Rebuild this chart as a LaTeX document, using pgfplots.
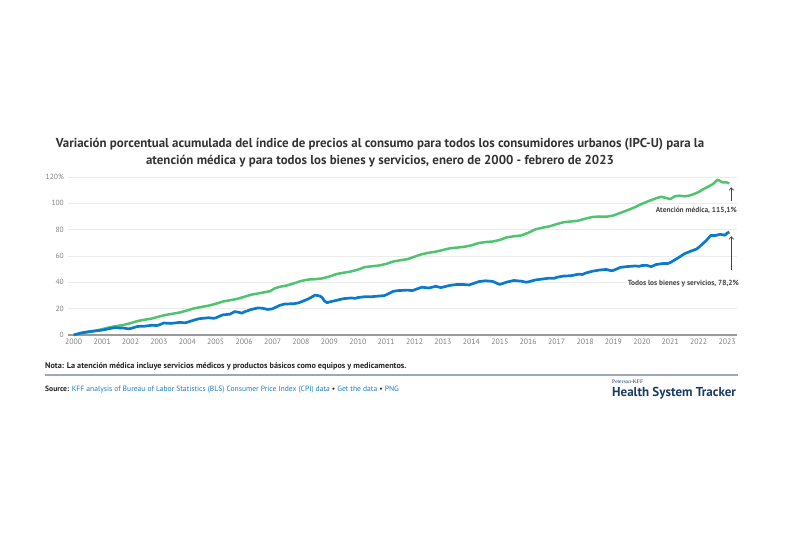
\documentclass[border=0pt]{standalone}
\usepackage{fontspec}
\setmainfont{PT Sans}
\newfontfamily\logoserif{Liberation Serif}
\usepackage{pgfplots}
\pgfplotsset{compat=1.18}
\usetikzlibrary{arrows.meta}

\definecolor{medgreen}{HTML}{4FC46E}
\definecolor{allblue}{HTML}{0A7AD0}
\definecolor{gridgray}{HTML}{ECECEC}
\definecolor{axisgray}{HTML}{9A9A9A}
\definecolor{ticktext}{HTML}{808080}
\definecolor{titletext}{HTML}{333333}
\definecolor{notetext}{HTML}{222222}
\definecolor{rulecolor}{HTML}{9DA8BA}
\definecolor{linkblue}{HTML}{1F7DC4}
\definecolor{navy}{HTML}{1C3A64}
\definecolor{annot}{HTML}{444444}

% Cumulative % change since January 2000, CPI-U medical care
\pgfplotstableread{
t        v
2000.00  0.0
2000.25  1.2
2000.50  2.2
2000.75  3.2
2001.00  4.4
2001.25  5.8
2001.50  6.8
2001.75  7.6
2002.00  9.0
2002.25  10.6
2002.50  11.6
2002.75  12.5
2003.00  14.0
2003.25  15.3
2003.50  16.2
2003.75  17.2
2004.00  18.7
2004.25  20.3
2004.50  21.3
2004.75  22.3
2005.00  23.7
2005.25  25.4
2005.50  26.4
2005.75  27.4
2006.00  29.0
2006.25  30.6
2006.50  31.6
2006.75  32.6
2006.92  33.3
2007.08  35.4
2007.25  36.6
2007.50  37.6
2007.75  39.2
2008.00  41.0
2008.25  42.1
2008.50  42.4
2008.75  43.0
2009.00  44.4
2009.25  46.3
2009.50  47.3
2009.75  48.2
2010.00  49.6
2010.25  51.6
2010.50  52.2
2010.75  52.8
2011.00  54.0
2011.25  55.8
2011.50  56.8
2011.75  57.6
2012.00  59.5
2012.25  61.3
2012.50  62.5
2012.75  63.3
2013.00  64.6
2013.25  65.9
2013.50  66.4
2013.75  67.0
2014.00  68.1
2014.25  69.8
2014.50  70.6
2014.75  71.0
2015.00  72.2
2015.25  74.2
2015.50  75.0
2015.75  75.6
2016.00  77.6
2016.25  80.2
2016.50  81.5
2016.75  82.5
2017.00  84.2
2017.25  85.7
2017.50  86.2
2017.75  86.8
2018.00  88.3
2018.25  89.6
2018.50  90.0
2018.75  89.8
2019.00  90.8
2019.25  92.8
2019.50  94.8
2019.75  97.0
2020.00  99.6
2020.25  101.8
2020.50  103.8
2020.67  105.0
2020.83  104.2
2021.00  103.2
2021.17  105.4
2021.33  105.8
2021.50  105.3
2021.67  105.9
2021.83  107.0
2022.00  108.6
2022.17  110.8
2022.33  112.6
2022.50  114.6
2022.67  118.0
2022.75  117.0
2022.83  116.0
2022.92  116.0
2023.00  115.8
2023.08  115.1
}\medical

% Cumulative % change since January 2000, CPI-U all items
\pgfplotstableread{
t        v
2000.00  0.0
2000.25  1.5
2000.50  2.4
2000.75  3.1
2001.00  3.7
2001.25  4.8
2001.42  5.5
2001.75  5.3
2001.92  4.7
2002.00  4.9
2002.25  6.5
2002.50  6.7
2002.75  7.4
2002.92  7.2
2003.00  7.6
2003.17  9.1
2003.42  8.8
2003.75  9.6
2003.92  9.2
2004.00  9.7
2004.25  11.4
2004.42  12.4
2004.75  13.1
2004.92  12.7
2005.00  13.0
2005.25  15.3
2005.50  15.8
2005.67  17.8
2005.83  17.1
2005.92  16.6
2006.00  17.5
2006.25  19.4
2006.50  20.6
2006.67  20.2
2006.83  19.4
2007.00  19.9
2007.25  22.5
2007.42  23.5
2007.75  23.8
2007.92  24.4
2008.00  25.1
2008.25  27.3
2008.50  30.3
2008.67  29.6
2008.75  28.3
2008.83  25.8
2008.92  24.5
2009.00  25.1
2009.25  26.3
2009.50  27.6
2009.75  28.1
2009.92  27.9
2010.00  28.4
2010.25  29.1
2010.50  29.1
2010.75  29.6
2010.92  29.9
2011.00  30.5
2011.25  33.2
2011.42  33.7
2011.75  34.1
2011.92  33.7
2012.00  34.3
2012.25  36.3
2012.50  35.7
2012.75  37.0
2012.92  36.0
2013.00  36.4
2013.25  37.7
2013.50  38.4
2013.75  38.3
2013.92  38.0
2014.00  38.6
2014.25  40.5
2014.50  41.2
2014.75  40.7
2014.92  39.1
2015.00  38.4
2015.25  40.2
2015.50  41.4
2015.75  40.9
2015.92  40.1
2016.00  40.3
2016.25  41.8
2016.50  42.5
2016.75  43.2
2016.92  43.0
2017.00  43.8
2017.25  44.8
2017.50  45.0
2017.75  46.1
2017.92  46.0
2018.00  46.9
2018.25  48.4
2018.50  49.3
2018.75  49.8
2018.92  48.8
2019.00  49.1
2019.25  51.4
2019.50  52.0
2019.75  52.4
2019.92  52.2
2020.00  52.8
2020.17  52.9
2020.33  51.9
2020.50  53.5
2020.75  54.3
2020.92  54.3
2021.00  55.0
2021.25  58.2
2021.50  61.7
2021.75  63.9
2021.92  65.2
2022.00  66.5
2022.25  71.3
2022.42  75.5
2022.58  75.5
2022.75  76.5
2022.92  75.8
2023.00  77.3
2023.08  78.2
}\allitems

\begin{document}
\begin{tikzpicture}
\path[use as bounding box] (0pt,0pt) rectangle (800pt,533pt);

% Title
\node[font=\fontsize{12.9}{15}\selectfont\bfseries, text=titletext] at (380pt,388.5pt)
  {Variación porcentual acumulada del índice de precios al consumo para todos los consumidores urbanos (IPC-U) para la};
\node[font=\fontsize{12.9}{15}\selectfont\bfseries, text=titletext] at (380pt,371.5pt)
  {atención médica y para todos los bienes y servicios, enero de 2000 - febrero de 2023};

\begin{axis}[
  at={(68pt,198pt)}, anchor=south west,
  scale only axis, width=669pt, height=158pt,
  xmin=1999.8, xmax=2023.35, ymin=0, ymax=120,
  clip=false,
  axis line style={draw=none},
  major tick length=0pt,
  ymajorgrids, grid style={gridgray, line width=0.8pt},
  ytick={0,20,40,60,80,100,120},
  yticklabels={0,20,40,60,80,100,120\%},
  xtick={2000,2001,...,2023},
  xticklabels={2000,2001,2002,2003,2004,2005,2006,2007,2008,2009,2010,2011,2012,2013,2014,2015,2016,2017,2018,2019,2020,2021,2022,2023},
  yticklabel style={font=\fontsize{7.5}{9}\selectfont, text=ticktext, inner sep=0pt, anchor=east, xshift=-4pt},
  xticklabel style={font=\fontsize{7.8}{9}\selectfont, text=ticktext, inner sep=0pt, anchor=north, yshift=-3.5pt},
]
\draw[axisgray, line width=2pt] (axis cs:1999.8,0) -- (axis cs:2023.35,0);
\addplot[medgreen, line width=2.5pt, line join=round] table[x=t,y=v] {\medical};
\addplot[allblue, line width=2.7pt, line join=round] table[x=t,y=v] {\allitems};

% Callouts
\draw[annot, line width=0.7pt, -{Straight Barb[length=2.5pt,width=4.5pt]}] (axis cs:2023.15,101.5) -- (axis cs:2023.15,112.2);
\draw[annot, line width=0.7pt, -{Straight Barb[length=2.5pt,width=4.5pt]}] (axis cs:2023.15,49.6) -- (axis cs:2023.15,75.0);
\node[anchor=east, font=\fontsize{7.4}{9}\selectfont\bfseries, text=annot, inner sep=0pt] at (axis cs:2023.35,94.7) {Atención médica, 115,1\%};
\node[anchor=east, font=\fontsize{7.4}{9}\selectfont\bfseries, text=annot, inner sep=0pt] at (axis cs:2023.42,39.0) {Todos los bienes y servicios, 78,2\%};
\end{axis}

% Note, rule and source
\node[anchor=west, inner sep=0pt, font=\fontsize{8.2}{10}\selectfont\bfseries, text=notetext] at (45pt,167pt)
  {Nota: La atención médica incluye servicios médicos y productos básicos como equipos y medicamentos.};
\draw[rulecolor, line width=1.3pt] (45pt,158pt) -- (738pt,158pt);
\node[anchor=west, inner sep=0pt, font=\fontsize{7.6}{9}\selectfont] at (45pt,143pt)
  {\textcolor{notetext}{\bfseries Source:} \textcolor{linkblue}{KFF analysis of Bureau of Labor Statistics (BLS) Consumer Price Index (CPI) data} \textcolor{notetext}{•} \textcolor{linkblue}{Get the data} \textcolor{notetext}{•} \textcolor{linkblue}{PNG}};

% Tracker wordmark
\node[anchor=west, inner sep=0pt, font=\logoserif\fontsize{5.5}{7}\selectfont, text=navy] at (612pt,151.3pt) {Peterson-KFF};
\node[anchor=west, inner sep=0pt, font=\fontsize{13}{15}\selectfont\bfseries, text=navy] at (612pt,139.7pt) {Health System Tracker};
\end{tikzpicture}
\end{document}
